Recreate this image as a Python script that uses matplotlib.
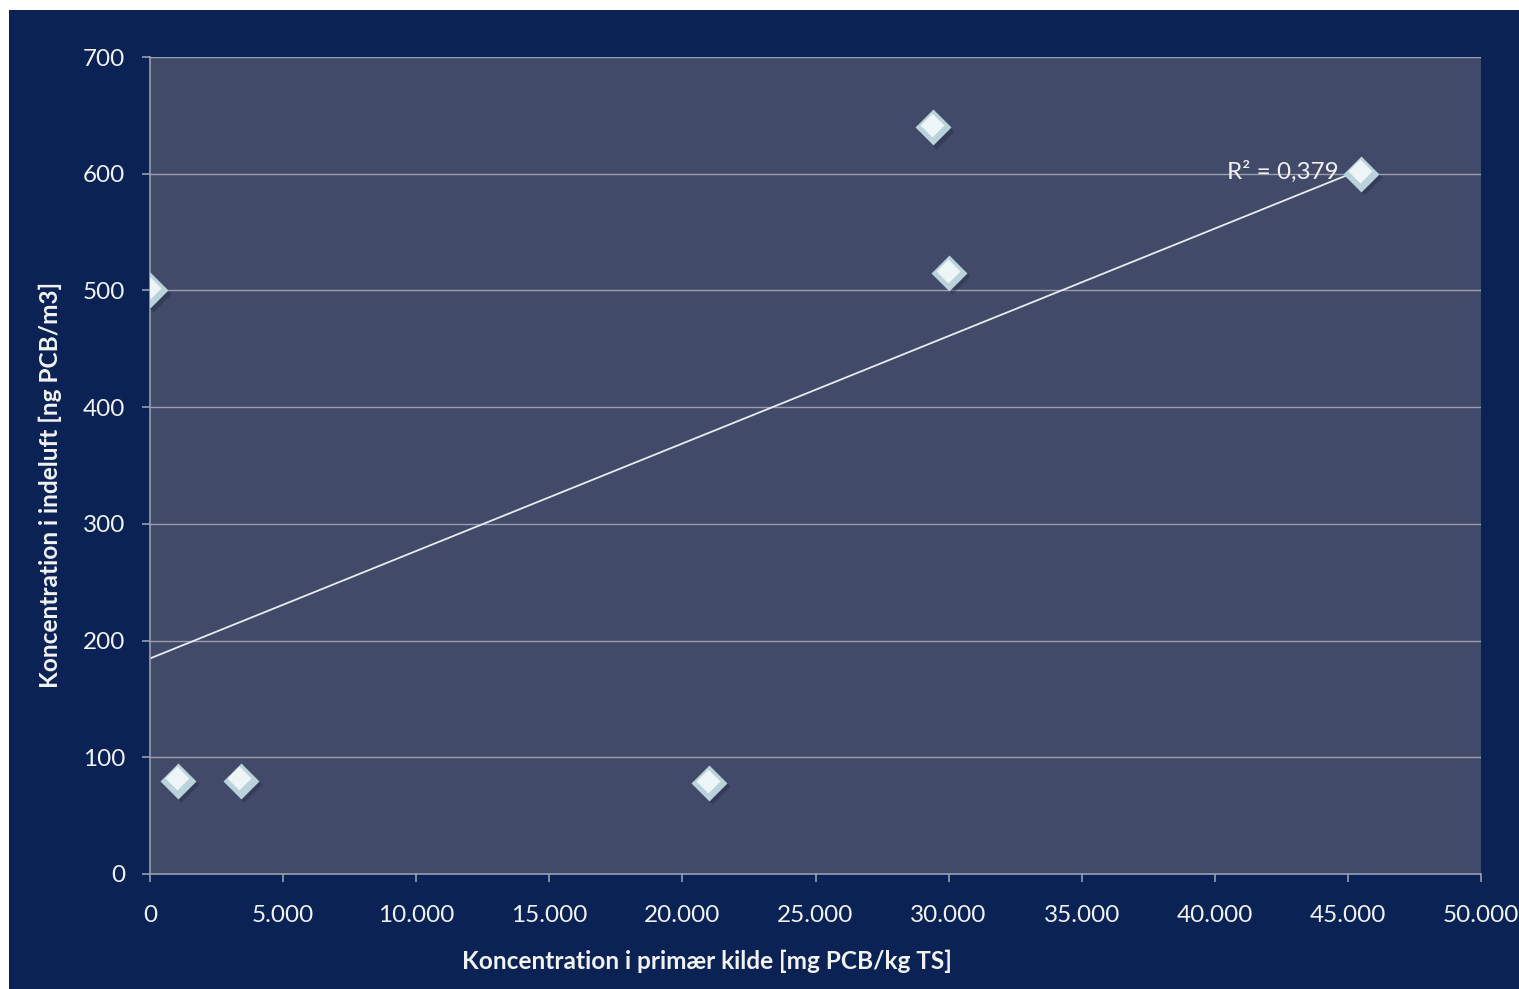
"""
PCB i indeluft mod PCB i primær kilde, med lineær tendenslinje.
"""

import matplotlib.pyplot as plt
import numpy as np
from matplotlib.patches import Rectangle
from matplotlib.ticker import FuncFormatter

plt.rcParams["font.family"] = ["Lato", "DejaVu Sans"]

# Målinger: primær kilde [mg PCB/kg TS] og indeluft [ng PCB/m3]
kilde = [0, 1050, 3400, 21000, 29400, 30000, 45500]
indeluft = [500, 80, 80, 78, 640, 515, 600]

x_ticks = [0, 5000, 10000, 15000, 20000, 25000, 30000, 35000, 40000, 45000, 50000]
y_ticks = [0, 100, 200, 300, 400, 500, 600, 700]

NAVY = "#0a2354"
PANEL = "#414a69"
GRID = "#9a9eb0"
TEXT = "#f2f2f2"


def _dk_thousands(v, _pos):
    return f"{int(round(v)):,}".replace(",", ".")


x = np.asarray(kilde, dtype=float)
y = np.asarray(indeluft, dtype=float)
slope, intercept = np.polyfit(x, y, 1)
r2 = np.corrcoef(x, y)[0, 1] ** 2

fig = plt.figure(figsize=(15.19, 9.89), dpi=100, facecolor="white")
fig.patches.append(
    Rectangle((9 / 1519, 0), 1.0, 1.0 - 10 / 989, transform=fig.transFigure,
              facecolor=NAVY, edgecolor="none", zorder=-5)
)

ax = fig.add_axes([150 / 1519, 1 - 874 / 989, 1331 / 1519, 817 / 989])
ax.set_facecolor(PANEL)
ax.set_xlim(0, 50000)
ax.set_ylim(0, 700)
ax.set_xticks(x_ticks)
ax.set_yticks(y_ticks)
ax.xaxis.set_major_formatter(FuncFormatter(_dk_thousands))

for v in y_ticks[1:]:
    ax.axhline(v, color=GRID, linewidth=1.0, zorder=1)

for side in ("top", "right"):
    ax.spines[side].set_visible(False)
for side in ("left", "bottom"):
    ax.spines[side].set_color(GRID)
    ax.spines[side].set_linewidth(1.2)

ax.tick_params(axis="both", colors=GRID, labelcolor=TEXT, labelsize=17.5,
               length=6, width=1.2, direction="out")
ax.tick_params(axis="x", pad=16)
ax.tick_params(axis="y", pad=12)

# Tendenslinje fra 0 til største måling
xf = np.array([0.0, x.max()])
ax.plot(xf, slope * xf + intercept, color="#e8ecf0", linewidth=1.3, zorder=2)

# Diamanter med skygge og lys top
ax.plot(x + 120, y - 3, linestyle="none", marker="D", markersize=18,
        markerfacecolor="#1c223a", markeredgecolor="none", alpha=0.35, zorder=3)
ax.plot(x, y, linestyle="none", marker="D", markersize=18,
        markerfacecolor="#b9d2db", markeredgecolor="none", zorder=4)
ax.plot(x - 40, y + 2, linestyle="none", marker="D", markersize=12,
        markerfacecolor="#f4f9fb", markeredgecolor="none", alpha=0.9, zorder=5)

ax.text(44650, 602, f"R² = {r2:.3f}".replace(".", ","), color=TEXT,
        fontsize=17.5, ha="right", va="center", zorder=6)

ax.set_xlabel("Koncentration i primær kilde [mg PCB/kg TS]", color=TEXT,
              fontsize=17.6, fontweight="bold")
ax.set_ylabel("Koncentration i indeluft [ng PCB/m3]", color=TEXT,
              fontsize=17.6, fontweight="bold")
ax.xaxis.set_label_coords(0.4185, -0.092)
ax.yaxis.set_label_coords(-0.066, 0.476)

fig.savefig("out.png", dpi=100, facecolor=fig.get_facecolor())
